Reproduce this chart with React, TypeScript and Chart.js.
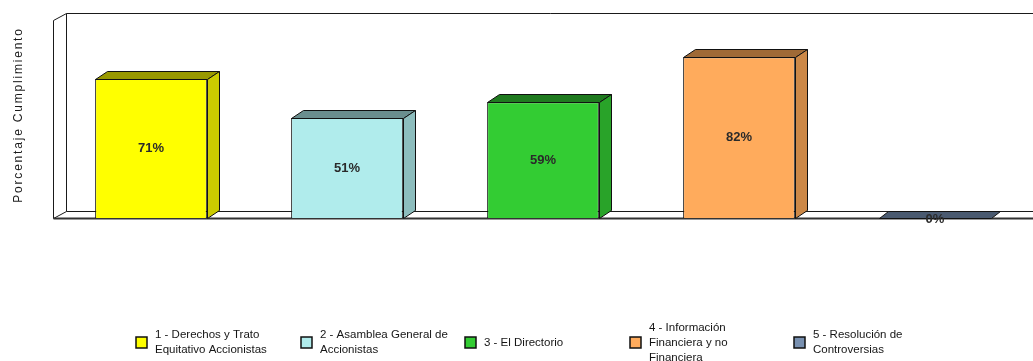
import React, { useEffect, useRef } from 'react';
import { Chart, registerables } from 'chart.js';

Chart.register(...registerables);

const categories = [
  '1 - Derechos y Trato Equitativo Accionistas',
  '2 - Asamblea General de Accionistas',
  '3 - El Directorio',
  '4 - Información Financiera y no Financiera',
  '5 - Resolución de Controversias',
];
const legendLines = [
  ['1 - Derechos y Trato', 'Equitativo Accionistas'],
  ['2 - Asamblea General de', 'Accionistas'],
  ['3 - El Directorio'],
  ['4 - Información', 'Financiera y no', 'Financiera'],
  ['5 - Resolución de', 'Controversias'],
];
const values = [71, 51, 59, 82, 0];
const valueLabels = ['71%', '51%', '59%', '82%', '0%'];
const frontColors = ['#FFFF00', '#B0ECEC', '#33CC33', '#FFAB5C', '#7890B0'];
const sideColors = ['#CCCC00', '#8DBDBD', '#29A329', '#CC8847', '#5A6C84'];
const topColors = ['#999900', '#6A8E8E', '#1F7A1F', '#A06A36', '#4A5A70'];
const yAxisTitle = 'Porcentaje Cumplimiento';

const DX = 12;
const DY = -8;
const WDX = 13;
const WDY = -7;

const wallPlugin = {
  id: 'wall3d',
  beforeDatasetsDraw(chart: any) {
    const { ctx, chartArea } = chart;
    const y0 = Math.round(chart.scales.y.getPixelForValue(0)) + 0.5;
    const L = Math.round(chartArea.left) + 0.5;
    const T = Math.round(chartArea.top) + 0.5;
    const R = chart.width + 5;
    ctx.save();
    ctx.fillStyle = '#ffffff';
    ctx.strokeStyle = '#1a1a1a';
    ctx.lineWidth = 1;
    ctx.beginPath();
    ctx.moveTo(L, T);
    ctx.lineTo(L + WDX, T + WDY);
    ctx.lineTo(L + WDX, y0 + WDY);
    ctx.lineTo(L, y0);
    ctx.closePath();
    ctx.fill();
    ctx.stroke();
    ctx.beginPath();
    ctx.moveTo(L + WDX, T + WDY);
    ctx.lineTo(R, T + WDY);
    ctx.moveTo(L + WDX, y0 + WDY);
    ctx.lineTo(R, y0 + WDY);
    ctx.stroke();
    ctx.lineWidth = 2;
    ctx.strokeStyle = '#333';
    ctx.beginPath();
    ctx.moveTo(L, y0);
    ctx.lineTo(R, y0);
    ctx.stroke();
    ctx.restore();
  },
  afterDatasetsDraw(chart: any) {
    const { ctx } = chart;
    const meta = chart.getDatasetMeta(0);
    ctx.save();
    ctx.strokeStyle = '#111';
    ctx.lineWidth = 1;
    meta.data.forEach((bar: any, i: number) => {
      const left = Math.round(bar.x - bar.width / 2) + 0.5;
      const right = Math.round(bar.x + bar.width / 2) + 0.5;
      const top = Math.round(bar.y) + 0.5;
      const base = Math.round(bar.base) + 0.5;
      const flat = base - top <= 0.5;
      const dx = flat ? 9 : DX;
      const dy = flat ? WDY : DY;
      ctx.fillStyle = topColors[i];
      ctx.beginPath();
      ctx.moveTo(left, top);
      ctx.lineTo(left + dx, top + dy);
      ctx.lineTo(right + dx, top + dy);
      ctx.lineTo(right, top);
      ctx.closePath();
      ctx.fill();
      ctx.stroke();
      if (!flat) {
        ctx.fillStyle = sideColors[i];
        ctx.beginPath();
        ctx.moveTo(right, top);
        ctx.lineTo(right + DX, top + DY);
        ctx.lineTo(right + DX, base + DY);
        ctx.lineTo(right, base);
        ctx.closePath();
        ctx.fill();
        ctx.stroke();
      }
    });
    ctx.fillStyle = '#2a2a2a';
    ctx.font = 'bold 13px "Liberation Sans", Arial, sans-serif';
    ctx.textAlign = 'center';
    ctx.textBaseline = 'middle';
    meta.data.forEach((bar: any, i: number) => {
      const h = bar.base - bar.y;
      const ty = h > 10 ? (bar.y + bar.base) / 2 : bar.base + 1;
      ctx.fillText(valueLabels[i], bar.x, ty);
    });
    ctx.restore();
  },
  afterDraw(chart: any) {
    const { ctx, chartArea } = chart;
    ctx.save();
    ctx.fillStyle = '#1a1a1a';
    ctx.font = '12px "Liberation Sans", Arial, sans-serif';
    (ctx as any).letterSpacing = '1.8px';
    ctx.textAlign = 'center';
    ctx.textBaseline = 'middle';
    ctx.translate(18.5, (chartArea.top + chartArea.bottom) / 2 - 4);
    ctx.rotate(-Math.PI / 2);
    ctx.fillText(yAxisTitle, 0, 0);
    ctx.restore();

    ctx.save();
    (ctx as any).letterSpacing = '0px';
    ctx.font = '11.5px "Liberation Sans", Arial, sans-serif';
    ctx.textBaseline = 'middle';
    ctx.textAlign = 'left';
    const startX = 136;
    const step = 164.5;
    const cy = 342.5;
    const lh = 15;
    categories.forEach((_, i) => {
      const bx = Math.round(startX + i * step);
      ctx.fillStyle = frontColors[i];
      ctx.fillRect(bx, cy - 5.5, 11, 11);
      ctx.strokeStyle = '#111';
      ctx.lineWidth = 1.5;
      ctx.strokeRect(bx, cy - 5.5, 11, 11);
      ctx.fillStyle = '#151515';
      const lines = legendLines[i];
      const y0 = cy - ((lines.length - 1) * lh) / 2;
      lines.forEach((ln, j) => ctx.fillText(ln, bx + 19, y0 + j * lh));
    });
    ctx.restore();
  },
};

export default function App() {
  const ref = useRef<HTMLCanvasElement | null>(null);
  useEffect(() => {
    if (!ref.current) return;
    const chart = new Chart(ref.current, {
      type: 'bar',
      data: {
        labels: categories,
        datasets: [
          {
            data: values,
            backgroundColor: frontColors,
            borderColor: '#111',
            borderWidth: 1,
            barPercentage: 0.57,
            categoryPercentage: 1,
          },
        ],
      },
      options: {
        responsive: false,
        animation: false,
        layout: { padding: { left: 53, right: 0, top: 20, bottom: 143 } },
        scales: {
          x: { display: false },
          y: { display: false, min: 0, max: 101 },
        },
        plugins: {
          legend: { display: false },
          tooltip: { enabled: false },
        },
      },
      plugins: [wallPlugin],
    });
    return () => chart.destroy();
  }, []);
  return (
    <div style={{ position: 'fixed', left: 0, top: 0, width: 1033, height: 361, background: '#fff' }}>
      <canvas ref={ref} width={1033} height={361} />
    </div>
  );
}
